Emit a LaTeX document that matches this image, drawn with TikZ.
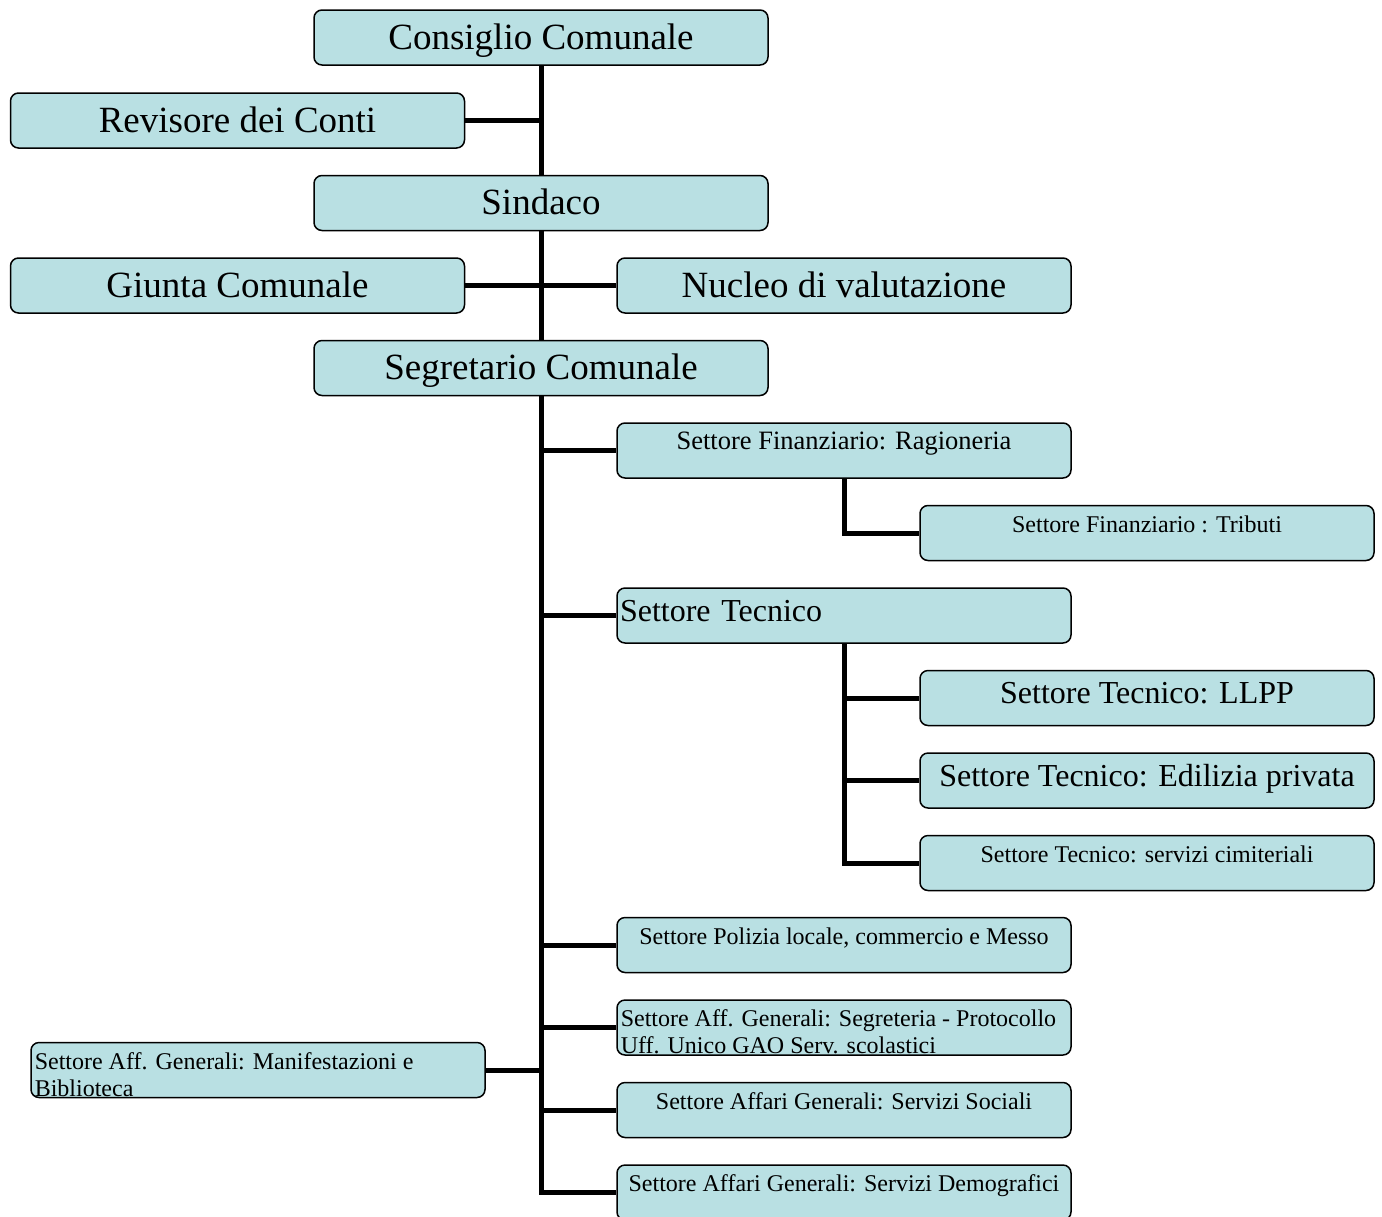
\documentclass[tikz,border=0pt]{standalone}
\usepackage{fontspec}
\setmainfont{Liberation Serif}
\definecolor{boxfill}{RGB}{185,224,227}
\newcommand\orgbig{\fontsize{37}{40}\selectfont}
\newcommand\orgmid{\fontsize{32}{36}\selectfont}
\newcommand\orgsmall{\fontsize{24}{27}\selectfont}
\tikzset{
  box/.style={draw, line width=1.5pt, rounded corners=8pt, fill=boxfill,
    minimum width=454pt, minimum height=55pt, inner sep=0pt},
  bigbox/.style={box, font=\orgbig, text height=23pt, text depth=0pt},
  midbox/.style={box, font=\orgmid, text height=11pt, text depth=0pt},
  smallbox/.style={box, font=\orgsmall, text height=0pt, text depth=2pt},
  cliptext/.style={anchor=north west, draw=none, fill=none, inner sep=0pt,
    minimum width=0pt, minimum height=0pt, font=\orgsmall, align=left},
  link/.style={line width=5pt}
}
\begin{document}
\begin{tikzpicture}[x=1pt, y=-1pt]
  \useasboundingbox (0,0) rectangle (1382,1216);
  % vertici
  \node[bigbox] (cons) at (541,37.5) {Consiglio Comunale};
  \node[bigbox] (rev) at (237.5,120.5) {Revisore dei Conti};
  \node[bigbox] (sin) at (541,203) {Sindaco};
  \node[bigbox] (giu) at (237.5,285.5) {Giunta Comunale};
  \node[bigbox] (nuc) at (844,285.5) {Nucleo di valutazione};
  \node[bigbox] (seg) at (541,368) {Segretario Comunale};
  % settori
  \node[smallbox, font=\fontsize{26.5}{30}\selectfont] (rag) at (844,450.5) {Settore Finanziario: Ragioneria};
  \node[smallbox] (trib) at (1147,533) {Settore Finanziario : Tributi};
  \node[midbox, text height=12pt, text width=448pt, align=left] (tec) at (844,615.5) {Settore Tecnico};
  \node[midbox] (llpp) at (1147,698) {Settore Tecnico: LLPP};
  \node[midbox] (edil) at (1147,780.5) {Settore Tecnico: Edilizia privata};
  \node[smallbox] (cim) at (1147,863) {Settore Tecnico: servizi cimiteriali};
  \node[smallbox] (pol) at (844,945) {Settore Polizia locale, commercio e Messo};
  \node[box, path picture={
      \node[cliptext] at ([xshift=3pt,yshift=-9pt]path picture bounding box.north west)
        {Settore Aff. Generali: Segreteria - Protocollo\\Uff. Unico GAO Serv. scolastici};}]
    (segr) at (844,1027.5) {};
  \node[box, path picture={
      \node[cliptext] at ([xshift=3pt,yshift=-9pt]path picture bounding box.north west)
        {Settore Aff. Generali: Manifestazioni e\\Biblioteca};}]
    (man) at (258,1070) {};
  \node[smallbox] (soc) at (844,1110) {Settore Affari Generali: Servizi Sociali};
  \node[smallbox] (dem) at (844,1192.5) {Settore Affari Generali: Servizi Demografici};
  % collegamenti
  \draw[link] (cons.south) -- (sin.north);
  \draw[link] (rev.east) -- (rev.east -| cons.south);
  \draw[link] (sin.south) -- (seg.north);
  \draw[link] (giu.east) -- (nuc.west);
  \draw[link] (seg.south) |- (dem.west);
  \foreach \n in {rag,tec,pol,segr,soc}
    \draw[link] (seg.south |- \n.west) -- (\n.west);
  \draw[link] (man.east) -- (man.east -| seg.south);
  \draw[link] (rag.south) |- (trib.west);
  \draw[link] (tec.south) |- (cim.west);
  \foreach \n in {llpp,edil}
    \draw[link] (tec.south |- \n.west) -- (\n.west);
\end{tikzpicture}
\end{document}
